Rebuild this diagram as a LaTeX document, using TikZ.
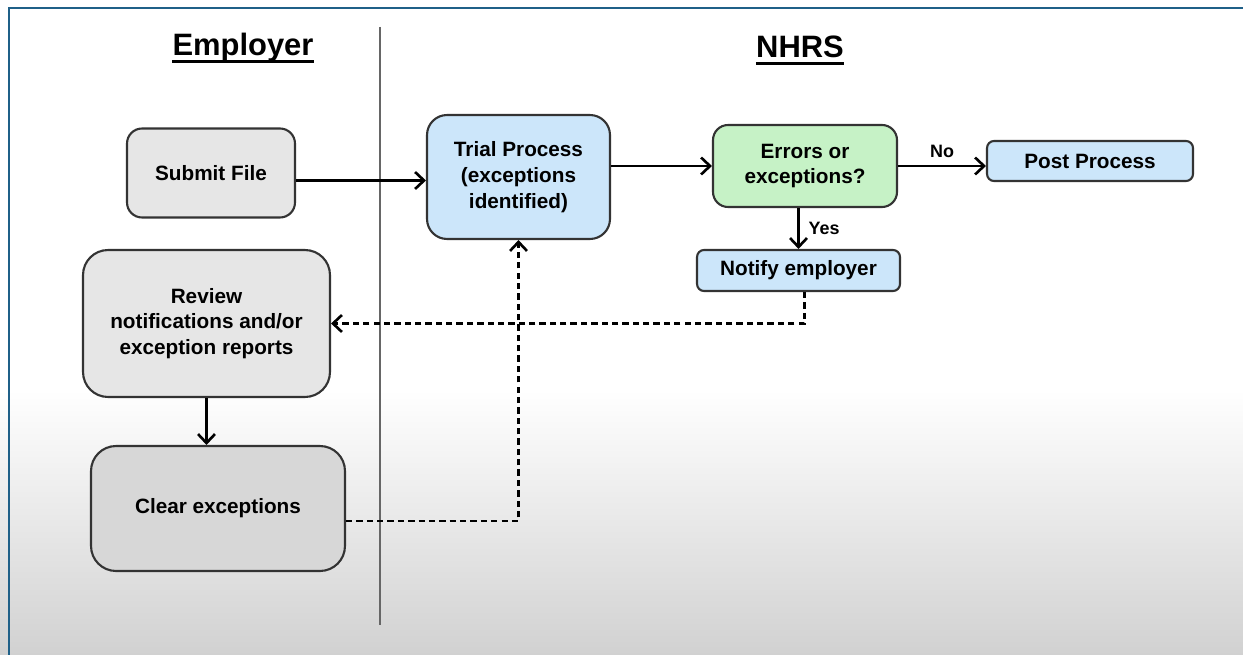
\documentclass[tikz,border=0pt]{standalone}
\usepackage{fontspec}
\setmainfont{Liberation Sans}
\usetikzlibrary{arrows.meta,positioning,calc}

\definecolor{frameblue}{HTML}{1F6088}
\definecolor{boxgray}{HTML}{E6E6E6}
\definecolor{boxdark}{HTML}{D7D7D7}
\definecolor{boxblue}{HTML}{CCE6FA}
\definecolor{boxgreen}{HTML}{C6F2C6}
\definecolor{edgegray}{HTML}{333333}

\tikzset{
  stepbox/.style={draw=edgegray,line width=1.2pt,align=center,
    font=\bfseries\fontsize{11.8}{14.7}\selectfont,inner sep=2pt},
  lanehead/.style={font=\bfseries\fontsize{17.6}{20}\selectfont,inner sep=0pt},
  flow/.style={line width=1.5pt,-{Straight Barb[length=1.8mm,width=3.4mm]}},
  backflow/.style={flow,dash pattern=on 3.6pt off 2.3pt},
  answer/.style={font=\bfseries\fontsize{10.2}{12}\selectfont,inner sep=1pt}
}

\begin{document}
\begin{tikzpicture}[x=0.02cm,y=-0.02cm]
\useasboundingbox (0,0) rectangle (1243,655);
\fill[white] (0,0) rectangle (1243,655);
\shade[top color=white,bottom color=black!18] (0,390) rectangle (1243,655);
\draw[frameblue,line width=1.6pt] (9,655) -- (9,8) -- (1243,8);
\draw[black!60,line width=1pt] (380,27) -- (380,625);

\node[lanehead] (emp) at (243,47.5) {Employer};
\node[lanehead] (nhrs) at (800,47) {NHRS};
\draw[line width=1.6pt] ([yshift=-3.2pt]emp.base west) -- ([yshift=-3.2pt]emp.base east);
\draw[line width=1.6pt] ([yshift=-3.2pt]nhrs.base west) -- ([yshift=-3.2pt]nhrs.base east);

\node[stepbox,fill=boxgray,minimum width=3.36cm,minimum height=1.78cm,
  rounded corners=0.3cm] (submit) at (211,173) {Submit File};
\node[stepbox,fill=boxblue,minimum width=3.66cm,minimum height=2.48cm,
  rounded corners=0.4cm] (trial) at (518.5,177) {Trial Process\\(exceptions\\identified)};
\node[stepbox,fill=boxgreen,minimum width=3.68cm,minimum height=1.64cm,
  rounded corners=0.3cm] (check) at (805,166) {Errors or\\exceptions?};
\node[stepbox,fill=boxblue,minimum width=4.12cm,minimum height=0.8cm,
  rounded corners=0.14cm] (post) at (1090,161) {Post Process};
\node[stepbox,fill=boxblue,minimum width=4.06cm,minimum height=0.82cm,
  rounded corners=0.14cm] (notify) at (798.5,270.5) {Notify employer};
\node[stepbox,fill=boxgray,minimum width=4.94cm,minimum height=2.94cm,
  rounded corners=0.5cm] (review) at (206.5,323.5) {Review\\notifications and/or\\exception reports};
\node[stepbox,fill=boxdark,minimum width=5.08cm,minimum height=2.5cm,
  rounded corners=0.5cm] (clearx) at (218,508.5) {Clear exceptions};

\draw[flow] ([yshift=-0.15cm]submit.east) -- ([yshift=-0.15cm]submit.east -| trial.west);
\draw[flow] (trial.east |- check.west) -- (check.west);
\draw[flow] (check.east) -- node[answer,above=3pt] {No} (post.west |- check.east);
\draw[flow] (notify.north |- check.south) -- node[answer,right=4pt] {Yes} (notify.north);
\draw[backflow] ([xshift=0.12cm]notify.south) |- (review.east);
\draw[flow] (review.south) -- (review.south |- clearx.north);
\draw[backflow] ([yshift=-0.25cm]clearx.east) -| (trial.south);
\end{tikzpicture}
\end{document}
